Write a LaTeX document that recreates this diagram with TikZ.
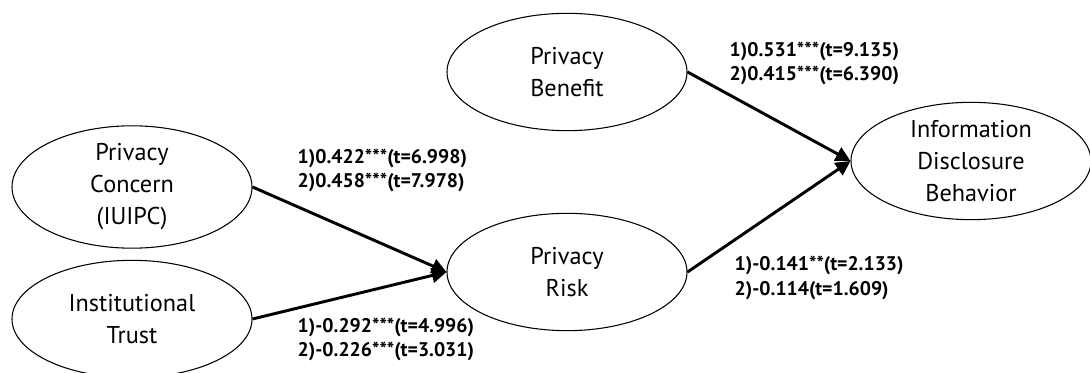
\documentclass[tikz,border=0pt]{standalone}
\usepackage{fontspec}
\setmainfont{PT Sans}
\usetikzlibrary{shapes.geometric,arrows.meta}

\begin{document}
\begin{tikzpicture}[x=0.75pt, y=-0.75pt,
  construct/.style={draw, ellipse, line width=0.8pt, minimum width=180pt,
    minimum height=88pt, inner sep=0pt, align=center,
    font=\fontsize{18.2}{24}\selectfont},
  pathline/.style={line width=2.2pt, -{Triangle[length=11pt, width=11pt]}},
  coef/.style={align=left, anchor=west, font=\bfseries\fontsize{14.8}{18.5}\selectfont}]

  \useasboundingbox (0,0) rectangle (1090,373);

  % Constructs
  \node[construct] (pc)  at (132, 187) {Privacy\\Concern\\(IUIPC)};
  \node[construct] (it)  at (132, 319) {Institutional\\Trust};
  \node[construct] (pb)  at (567, 72)  {Privacy\\Benefit};
  \node[construct] (pr)  at (567, 272) {Privacy\\Risk};
  \node[construct] (idb) at (971, 161) {Information\\Disclosure\\Behavior};

  % Paths
  \draw[pathline] (pc.east)  -- (pr.west);
  \draw[pathline] (it.east)  -- (pr.west);
  \draw[pathline] (pb.east)  -- (idb.west);
  \draw[pathline] (pr.east)  -- (idb.west);

  % Path coefficients
  \node[coef] (c1) at (293, 170.5) {1)0.422***(t=6.998)\\2)0.458***(t=7.978)};   % concern -> risk
  \node[coef] (c2) at (293, 339.5) {1)-0.292***(t=4.996)\\2)-0.226***(t=3.031)}; % trust -> risk
  \node[coef] (c3) at (725, 63.5)  {1)0.531***(t=9.135)\\2)0.415***(t=6.390)};   % benefit -> behavior
  \node[coef] (c4) at (730, 278)   {1)-0.141**(t=2.133)\\2)-0.114(t=1.609)};      % risk -> behavior

\end{tikzpicture}
\end{document}
